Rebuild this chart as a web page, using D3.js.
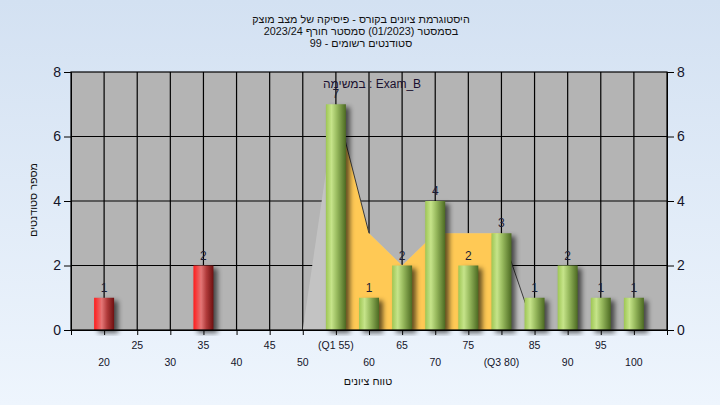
<!DOCTYPE html>
<html><head><meta charset="utf-8">
<script src="https://cdn.jsdelivr.net/npm/d3@7"></script>
<style>
html,body{margin:0;padding:0;}
body{width:720px;height:405px;overflow:hidden;}
text{font-family:"Liberation Sans",Arial,sans-serif;}
</style></head>
<body>
<svg id="chart" width="720" height="405"></svg>
<script>
// ---- data ----
const titleLines = [
  "היסטוגרמת ציונים בקורס - פיסיקה של מצב מוצק",
  "בסמסטר  (01/2023)  סמסטר חורף  2023/24",
  "סטודנטים רשומים - 99"
];
const subTitle = "במשימה : Exam_B";
const yAxisTitle = "מספר סטודנטים";
const xAxisTitle = "טווח ציונים";
const binGrades = [20, 35, 55, 60, 65, 70, 75, 80, 85, 90, 95, 100];
const binCounts = [1, 2, 7, 1, 2, 4, 2, 3, 1, 2, 1, 1];
const polyGrades = [50, 55, 60, 65, 70, 75, 80, 85];
const polyCounts = [0, 7, 3, 2, 3, 3, 3, 0];
const xTickValues = [20, 25, 30, 35, 40, 45, 50, 55, 60, 65, 70, 75, 80, 85, 90, 95, 100];
const yTickValues = [0, 2, 4, 6, 8];
const q1 = 55, q3 = 80;
const failBelow = 55;

// ---- layout ----
const svg = d3.select("#chart");
const L = 71, R = 667, T = 72, B = 330;
const x = d3.scaleLinear().domain([15, 105]).range([L, R]);
const y = d3.scaleLinear().domain([0, 8]).range([B, T]);
const barW = 20;

const defs = svg.append("defs");
const bgGrad = defs.append("linearGradient").attr("id", "bg").attr("x1", 0).attr("y1", 0).attr("x2", 0).attr("y2", 1);
bgGrad.append("stop").attr("offset", "0%").attr("stop-color", "#d3e1f2");
bgGrad.append("stop").attr("offset", "100%").attr("stop-color", "#eef5fd");

function barGrad(id, stops) {
  const g = defs.append("linearGradient").attr("id", id).attr("x1", 0).attr("y1", 0).attr("x2", 1).attr("y2", 0);
  stops.forEach(s => g.append("stop").attr("offset", s[0]).attr("stop-color", s[1]));
}
barGrad("gGreen", [["0%", "#9ec654"], ["28%", "#c6e48a"], ["55%", "#98ba5e"], ["100%", "#4c6a22"]]);
barGrad("gRed", [["0%", "#ff1c1c"], ["38%", "#e47676"], ["65%", "#b03a3a"], ["100%", "#6e1010"]]);

const flt = defs.append("filter").attr("id", "shadow").attr("x", "-50%").attr("y", "-50%").attr("width", "200%").attr("height", "200%");
flt.append("feGaussianBlur").attr("stdDeviation", 2.5);

defs.append("clipPath").attr("id", "qclip").append("rect")
  .attr("x", x(q1)).attr("y", T).attr("width", x(q3) - x(q1)).attr("height", B - T);
defs.append("clipPath").attr("id", "plotclip").append("rect")
  .attr("x", L).attr("y", T).attr("width", R - L).attr("height", B - T + 6);

svg.append("rect").attr("width", 720).attr("height", 405).attr("fill", "url(#bg)");

// plot background
svg.append("rect").attr("x", L).attr("y", T).attr("width", R - L).attr("height", B - T).attr("fill", "#b4b4b4");

// grid
svg.append("g").selectAll("line").data(xTickValues).join("line")
  .attr("x1", d => x(d)).attr("x2", d => x(d)).attr("y1", T).attr("y2", B)
  .attr("stroke", "#000").attr("stroke-width", 1.2);
svg.append("g").selectAll("line").data(yTickValues.filter(v => v > 0 && v < 8)).join("line")
  .attr("x1", L).attr("x2", R).attr("y1", d => y(d)).attr("y2", d => y(d))
  .attr("stroke", "#000").attr("stroke-width", 1.2);

// frequency polygon area
const poly = polyGrades.map((g, i) => ({ g, c: polyCounts[i] }));
const area = d3.area().x(d => x(d.g)).y0(y(0)).y1(d => y(d.c));
svg.append("path").datum(poly).attr("d", area).attr("fill", "#c3c3c3");
svg.append("path").datum(poly).attr("d", area).attr("fill", "#ffc955").attr("clip-path", "url(#qclip)");
const line = d3.line().x(d => x(d.g)).y(d => y(d.c));
svg.append("path").datum(poly.filter(d => d.g >= q1 && d.g <= q1 + 5)).attr("d", line)
  .attr("fill", "none").attr("stroke", "#3a3a3a").attr("stroke-width", 1);
svg.append("path").datum(poly.filter(d => d.g >= q3 && d.g <= q3 + 5)).attr("d", line)
  .attr("fill", "none").attr("stroke", "#3a3a3a").attr("stroke-width", 1);

// bars
const bars = binGrades.map((g, i) => ({ g, c: binCounts[i] }));
const bg = svg.append("g").attr("clip-path", "url(#plotclip)");
bg.selectAll("rect.sh").data(bars).join("rect").attr("class", "sh")
  .attr("x", d => x(d.g) - barW / 2 + 4).attr("y", d => y(d.c) + 3)
  .attr("width", barW).attr("height", d => y(0) - y(d.c))
  .attr("fill", "#000").attr("opacity", 0.6).attr("filter", "url(#shadow)");
svg.append("g").selectAll("rect").data(bars).join("rect")
  .attr("x", d => x(d.g) - barW / 2).attr("y", d => y(d.c))
  .attr("width", barW).attr("height", d => y(0) - y(d.c))
  .attr("fill", d => d.g < failBelow ? "url(#gRed)" : "url(#gGreen)");

// value labels
svg.append("g").selectAll("text").data(bars).join("text")
  .attr("x", d => x(d.g)).attr("y", d => y(d.c) - 6)
  .attr("text-anchor", "middle").attr("font-size", 12).attr("fill", "#1c1c34")
  .text(d => d.c);

// frame
svg.append("rect").attr("x", L).attr("y", T).attr("width", R - L).attr("height", B - T)
  .attr("fill", "none").attr("stroke", "#000").attr("stroke-width", 1.2);

// axes
const fmtX = d => d === q1 ? `(Q1 ${d})` : d === q3 ? `(Q3 ${d})` : d;
const xAxis = svg.append("g").attr("transform", `translate(0,${B})`)
  .call(d3.axisBottom(x).tickValues([15, ...xTickValues, 105]).tickSize(5).tickFormat(""));
xAxis.select(".domain").attr("stroke", "#000");
xAxis.selectAll(".tick line").attr("stroke", "#000");
svg.append("g").selectAll("text").data(xTickValues).join("text")
  .attr("x", d => x(d)).attr("y", (d, i) => i % 2 === 0 ? 366 : 349)
  .attr("text-anchor", "middle").attr("font-size", 10.5).attr("fill", "#14142a")
  .text(fmtX);

const yAxisL = svg.append("g").attr("transform", `translate(${L},0)`)
  .call(d3.axisLeft(y).tickValues(yTickValues).tickSize(7).tickPadding(3));
const yAxisR = svg.append("g").attr("transform", `translate(${R},0)`)
  .call(d3.axisRight(y).tickValues(yTickValues).tickSize(7).tickPadding(3));
[yAxisL, yAxisR].forEach(a => {
  a.select(".domain").attr("stroke", "#000");
  a.selectAll(".tick line").attr("stroke", "#000");
  a.selectAll(".tick text").attr("font-size", 14).attr("fill", "#14142a")
    .attr("font-family", "'Liberation Sans',Arial,sans-serif");
});

// titles
svg.append("g").selectAll("text").data(titleLines).join("text")
  .attr("x", 361).attr("y", (d, i) => 23 + i * 12)
  .attr("text-anchor", "middle").attr("direction", "rtl").attr("font-size", 10.8).attr("fill", "#111")
  .text(d => d);
svg.append("text").attr("x", 372).attr("y", 88).attr("text-anchor", "middle")
  .attr("font-size", 12).attr("fill", "#1a1030").text(subTitle);
svg.append("text").attr("transform", "translate(37,200) rotate(-90)")
  .attr("text-anchor", "middle").attr("direction", "rtl").attr("font-size", 10.8).attr("fill", "#111")
  .text(yAxisTitle);
svg.append("text").attr("x", 368).attr("y", 385).attr("text-anchor", "middle")
  .attr("direction", "rtl").attr("font-size", 10.8).attr("fill", "#111").text(xAxisTitle);
</script>
</body></html>
